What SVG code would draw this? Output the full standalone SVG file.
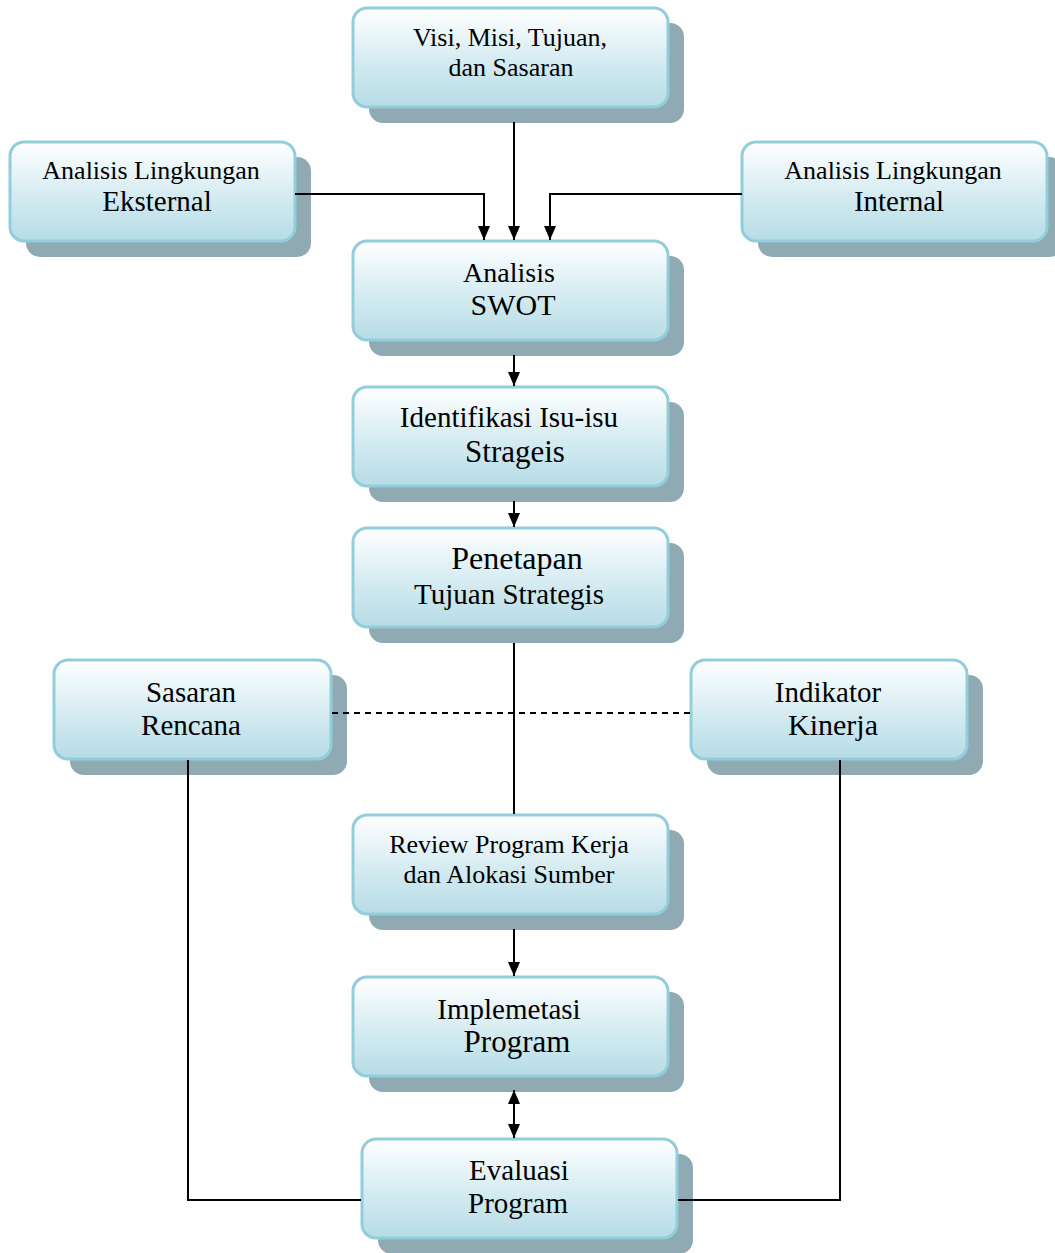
<svg xmlns="http://www.w3.org/2000/svg" width="1055" height="1253" viewBox="0 0 1055 1253">
<defs>
<linearGradient id="g" x1="0" y1="0" x2="0" y2="1">
<stop offset="0" stop-color="#FFFFFF"/>
<stop offset="0.55" stop-color="#D4EBF1"/>
<stop offset="1" stop-color="#B6DCE6"/>
</linearGradient>
<marker id="ahd" viewBox="0 0 14 12" refX="14" refY="6" markerWidth="14" markerHeight="12" markerUnits="userSpaceOnUse" orient="auto-start-reverse">
<path d="M0,0 L14,6 L0,12 Z" fill="#000"/>
</marker>
</defs>
<style>
.sh{fill:#8FAAB3}
.bx{fill:url(#g);stroke:#92CDDC;stroke-width:3}
text{font-family:"Liberation Serif","Times New Roman",serif;fill:#000;text-anchor:middle}
.s26{font-size:26px}
.s28{font-size:28px}
.s29{font-size:29px}
.s30{font-size:30px}
.s31{font-size:31px}
.s32{font-size:32px}
.ln{stroke:#000;stroke-width:2;fill:none}
</style>
<rect width="1055" height="1253" fill="#fff"/>

<g id="visi">
<rect class="sh" x="369" y="23" width="315" height="100" rx="14"/>
<rect class="bx" x="353" y="8" width="315" height="99" rx="14"/>
<text class="s26" x="510" y="46">Visi, Misi, Tujuan,</text>
<text class="s26" x="511" y="76">dan Sasaran</text>
</g>

<g id="eksternal">
<rect class="sh" x="26" y="157" width="285" height="100" rx="14"/>
<rect class="bx" x="10" y="142" width="285" height="99" rx="14"/>
<text class="s26" x="151" y="179">Analisis  Lingkungan</text>
<text class="s29" x="157" y="211">Eksternal</text>
</g>

<g id="internal">
<rect class="sh" x="758" y="157" width="305" height="100" rx="14"/>
<rect class="bx" x="742" y="142" width="305" height="99" rx="14"/>
<text class="s26" x="893" y="179">Analisis  Lingkungan</text>
<text class="s29" x="899" y="211">Internal</text>
</g>

<g id="swot">
<rect class="sh" x="369" y="256" width="315" height="100" rx="14"/>
<rect class="bx" x="353" y="241" width="315" height="99" rx="14"/>
<text class="s28" x="509" y="282">Analisis</text>
<text class="s30" x="513" y="315">SWOT</text>
</g>

<g id="identifikasi">
<rect class="sh" x="369" y="402" width="315" height="100" rx="14"/>
<rect class="bx" x="353" y="387" width="315" height="99" rx="14"/>
<text class="s29" x="509" y="427">Identifikasi Isu-isu</text>
<text class="s31" x="515" y="462">Strageis</text>
</g>

<g id="penetapan">
<rect class="sh" x="369" y="543" width="315" height="100" rx="14"/>
<rect class="bx" x="353" y="528" width="315" height="99" rx="14"/>
<text class="s32" x="517" y="569">Penetapan</text>
<text class="s29" x="509" y="604">Tujuan Strategis</text>
</g>

<g id="sasaran">
<rect class="sh" x="70" y="675" width="277" height="100" rx="14"/>
<rect class="bx" x="54" y="660" width="277" height="99" rx="14"/>
<text class="s29" x="191" y="702">Sasaran</text>
<text class="s29" x="191" y="735">Rencana</text>
</g>

<g id="indikator">
<rect class="sh" x="707" y="675" width="276" height="100" rx="14"/>
<rect class="bx" x="691" y="660" width="276" height="99" rx="14"/>
<text class="s29" x="828" y="702">Indikator</text>
<text class="s30" x="833" y="735">Kinerja</text>
</g>

<g id="review">
<rect class="sh" x="369" y="830" width="315" height="100" rx="14"/>
<rect class="bx" x="353" y="815" width="315" height="99" rx="14"/>
<text class="s26" x="509" y="853">Review Program Kerja</text>
<text class="s26" x="509" y="883">dan Alokasi Sumber</text>
</g>

<g id="implementasi">
<rect class="sh" x="369" y="992" width="315" height="100" rx="14"/>
<rect class="bx" x="353" y="977" width="315" height="99" rx="14"/>
<text class="s29" x="509" y="1019">Implemetasi</text>
<text class="s31" x="517" y="1052">Program</text>
</g>

<g id="evaluasi">
<rect class="sh" x="378" y="1154" width="315" height="100" rx="14"/>
<rect class="bx" x="362" y="1139" width="315" height="99" rx="14"/>
<text class="s29" x="519" y="1180">Evaluasi</text>
<text class="s29" x="518" y="1213">Program</text>
</g>

<g id="connectors">
<line class="ln" x1="514" y1="122" x2="514" y2="240" marker-end="url(#ahd)"/>
<polyline class="ln" points="295,194 484,194 484,240" marker-end="url(#ahd)"/>
<polyline class="ln" points="742,194 550,194 550,240" marker-end="url(#ahd)"/>
<line class="ln" x1="514" y1="355" x2="514" y2="386" marker-end="url(#ahd)"/>
<line class="ln" x1="514" y1="501" x2="514" y2="527" marker-end="url(#ahd)"/>
<line class="ln" x1="514" y1="643" x2="514" y2="814"/>
<line class="ln" x1="332" y1="713" x2="690" y2="713" stroke-dasharray="6,5"/>
<polyline class="ln" points="188,760 188,1200 361,1200"/>
<polyline class="ln" points="840,760 840,1200 678,1200"/>
<line class="ln" x1="514" y1="929" x2="514" y2="976" marker-end="url(#ahd)"/>
<line class="ln" x1="514" y1="1090" x2="514" y2="1138" marker-start="url(#ahd)" marker-end="url(#ahd)"/>
</g>
</svg>
